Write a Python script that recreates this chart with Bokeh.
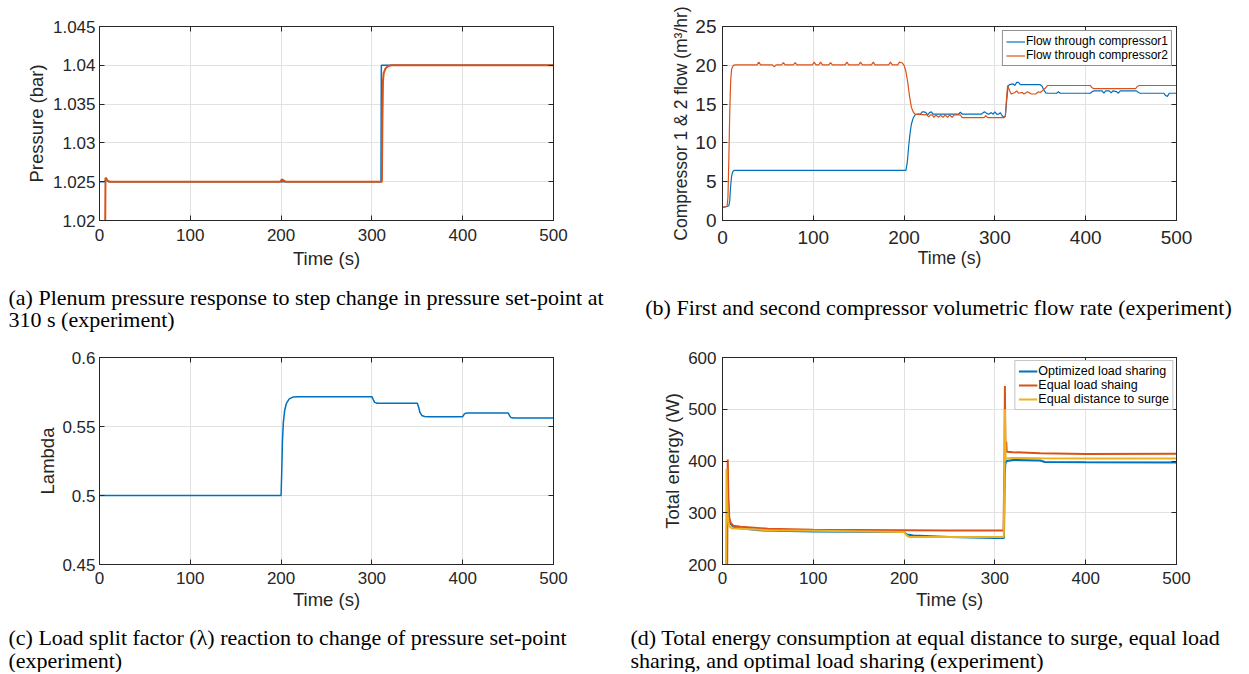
from bokeh.plotting import figure
from bokeh.models import Range1d, FixedTicker, LinearAxis, Label, CustomLabelingPolicy
from bokeh.layouts import column, row
from bokeh.embed import file_html
from bokeh.resources import INLINE

# ---------------- data ----------------
# (a) plenum pressure
a_t_set = [0, 6, 7, 8.5, 10, 310, 310.4, 500]
a_p_set = [1.025, 1.025, 1.0254, 1.0252, 1.025, 1.025, 1.040, 1.040]
a_t_meas = [5.8, 6.6, 7.5, 9, 12, 199, 201, 203, 205, 311.0, 311.6, 312.2, 313, 315, 318, 322, 500]
a_p_meas = [1.010, 1.0255, 1.0254, 1.0251, 1.0250, 1.0250, 1.0253, 1.02515, 1.0250,
            1.025, 1.033, 1.0380, 1.0390, 1.0396, 1.0399, 1.0400, 1.0400]
a_yticks = [1.02, 1.025, 1.03, 1.035, 1.04, 1.045]
a_ylabels = ["1.02", "1.025", "1.03", "1.035", "1.04", "1.045"]

# (b) compressor flows
b_t1 = [0, 5, 7, 8, 9, 10, 11, 12, 13, 15, 202, 203.5, 205, 206.5, 208, 210, 212, 214, 218,
        220, 222, 224, 226, 228, 230, 232, 260, 262, 264, 285, 287, 289, 291, 293, 296, 298,
        300, 302, 304, 306, 308, 310, 311.5, 313, 314.5, 316, 320, 322, 324, 326, 328, 330,
        350, 352, 354, 356, 358, 368, 370, 372, 405, 407, 409, 418, 420, 422, 426, 428, 430,
        434, 436, 438, 456, 458, 460, 486, 488, 490, 492, 500]
b_q1 = [1.7, 1.8, 1.9, 2.6, 4.5, 5.7, 6.2, 6.4, 6.45, 6.45, 6.45, 7.5, 9.5, 11.2, 12.4, 13.2,
        13.6, 13.7, 13.7, 14.0, 14.0, 13.9, 13.6, 13.9, 14.0, 13.7, 13.7, 13.95, 13.7, 13.7,
        13.9, 14.0, 13.8, 13.7, 13.9, 13.7, 14.0, 13.7, 13.7, 13.9, 13.5, 13.3, 13.4, 15.5,
        17.3, 17.5, 17.6, 17.4, 17.8, 17.8, 17.5, 17.5, 17.5, 17.3, 16.8, 16.45, 16.4, 16.4,
        16.6, 16.4, 16.4, 16.6, 16.7, 16.7, 16.4, 16.7, 16.7, 16.45, 16.7, 16.6, 16.4, 16.7,
        16.7, 16.5, 16.4, 16.4, 16.1, 16.0, 16.4, 16.4]
b_t2 = [0, 5, 6, 7, 8, 9, 10, 12, 14, 38, 40, 42, 55, 57, 59, 65, 67, 69, 78, 80, 82, 99, 101,
        103, 106, 108, 110, 117, 119, 121, 135, 137, 139, 150, 152, 154, 164, 166, 168, 183,
        185, 187, 193, 195, 198, 200, 202, 204, 206, 208, 210, 212, 225, 227, 229, 231, 233,
        235, 238, 240, 243, 245, 248, 250, 253, 255, 262, 264, 288, 290, 292, 310, 311.5, 313,
        314, 316, 318, 322, 324, 326, 330, 332, 336, 340, 345, 348, 350, 353, 356, 358, 405,
        407, 409, 455, 457, 459, 500]
b_q2 = [1.7, 1.8, 3.0, 8.0, 14.0, 18.0, 19.5, 20.0, 20.05, 20.05, 20.4, 20.05, 20.05, 19.8,
        20.05, 20.05, 20.35, 20.05, 20.05, 20.35, 20.05, 20.05, 20.4, 20.05, 20.05, 20.4, 20.05,
        20.05, 20.35, 20.05, 20.05, 20.4, 20.05, 20.05, 20.4, 20.05, 20.05, 20.4, 20.05, 20.05,
        20.4, 20.05, 20.05, 20.4, 20.3, 20.0, 19.2, 17.8, 16.0, 14.6, 14.0, 13.7, 13.6, 13.35,
        13.6, 13.6, 13.3, 13.6, 13.3, 13.55, 13.3, 13.6, 13.3, 13.6, 13.3, 13.6, 13.6, 13.25,
        13.25, 13.5, 13.25, 13.25, 13.5, 16.0, 17.4, 16.8, 16.3, 16.5, 16.7, 16.4, 16.5, 16.3,
        16.6, 16.3, 16.3, 16.6, 16.5, 16.8, 17.1, 17.4, 17.4, 17.1, 17.0, 17.0, 17.3, 17.4, 17.4]
b_yticks = [0, 5, 10, 15, 20, 25]
b_ylabels = ["0", "5", "10", "15", "20", "25"]

# (c) load split factor
c_t = [0, 200, 200.8, 201.5, 202.5, 204, 206, 209, 213, 220, 300, 301.5, 303, 306, 350, 351.5,
       353, 355, 358, 362, 400, 401.5, 403, 406, 450, 451.5, 453, 456, 500]
c_lam = [0.5, 0.5, 0.52, 0.54, 0.553, 0.562, 0.567, 0.570, 0.5713, 0.5716, 0.5716, 0.5695,
         0.5675, 0.5668, 0.5668, 0.5640, 0.560, 0.5580, 0.5572, 0.5571, 0.5571, 0.5588, 0.5596,
         0.5598, 0.5598, 0.5580, 0.5566, 0.5562, 0.5562]
c_yticks = [0.45, 0.5, 0.55, 0.6]
c_ylabels = ["0.45", "0.5", "0.55", "0.6"]

# (d) total energy
d_t_opt = [4.5, 5.2, 6, 7, 9, 12, 20, 40, 100, 200, 203, 210, 250, 300, 310, 310.8, 311.5, 313,
           320, 350, 355, 400, 500]
d_e_opt = [150, 360, 330, 290, 278, 273, 270, 266, 264, 263, 258, 256, 253, 251, 251, 370, 395,
           400, 402, 401, 398, 397.5, 397]
d_t_eq = [5, 5.8, 6.5, 7.5, 9, 12, 20, 50, 100, 200, 250, 309.5, 310.5, 311, 311.5, 312, 312.5,
          313, 320, 350, 400, 500]
d_e_eq = [150, 403, 330, 290, 280, 275, 273, 269, 267, 266, 265.5, 265.5, 400, 545, 440, 420,
          437, 418, 417, 415, 413.5, 414]
d_t_ds = [3.8, 4.4, 5, 6, 7, 10, 20, 50, 100, 200, 203, 206, 250, 309.8, 310.6, 311, 311.8, 313,
          320, 350, 400, 500]
d_e_ds = [150, 385, 330, 290, 275, 270, 269, 266, 265, 263, 256, 253, 253, 253, 380, 500, 405,
          405, 406, 405.5, 405, 405]
d_yticks = [200, 300, 400, 500, 600]
d_ylabels = ["200", "300", "400", "500", "600"]

x_ticks = [0, 100, 200, 300, 400, 500]

cap_a = ["(a) Plenum pressure response to step change in pressure set-point at",
         "310 s (experiment)"]
cap_b = ["(b) First and second compressor volumetric flow rate (experiment)"]
cap_c = ["(c) Load split factor (\u03bb) reaction to change of pressure set-point",
         "(experiment)"]
cap_d = ["(d) Total energy consumption at equal distance to surge, equal load",
         "sharing, and optimal load sharing (experiment)"]

# ---------------- style ----------------
SANS = "Liberation Sans"
SERIF = "Liberation Serif"
AX = "#262626"
GRID = "#e2e2e2"
BLUE = "#0072BD"
ORANGE = "#D95319"
YELLOW = "#EDB120"
CAP_FS = "22px"

NO_LABELS = "for (const i of indices) { indices.unset(i) }\nreturn indices"


def make_fig(w, h, bl, bt, br, bb, yr, yticks, ylabels, tick_fs, lab_fs,
             xstand, xlabstand, ystand, ylabstand, ylabel):
    p = figure(width=w, height=h, min_border_left=bl, min_border_top=bt,
               min_border_right=br, min_border_bottom=bb,
               x_range=Range1d(0, 500), y_range=Range1d(*yr),
               output_backend="svg", toolbar_location=None, tools="")
    p.outline_line_color = AX
    p.outline_line_width = 1
    p.background_fill_color = "white"
    p.border_fill_color = "white"
    xt = FixedTicker(ticks=x_ticks)
    yt = FixedTicker(ticks=yticks)
    p.xaxis.ticker = xt
    p.yaxis.ticker = yt
    p.xgrid.ticker = xt
    p.ygrid.ticker = yt
    p.yaxis.major_label_overrides = {t: l for t, l in zip(yticks, ylabels)}
    for ax in (p.xaxis[0], p.yaxis[0]):
        ax.axis_line_color = AX
        ax.major_tick_line_color = AX
        ax.major_tick_in = 5
        ax.major_tick_out = 0
        ax.minor_tick_line_color = None
        ax.major_label_text_font = SANS
        ax.major_label_text_font_size = tick_fs
        ax.major_label_text_color = AX
        ax.axis_label_text_font = SANS
        ax.axis_label_text_font_size = lab_fs
        ax.axis_label_text_font_style = "normal"
        ax.axis_label_text_color = AX
    p.xaxis.major_label_standoff = xstand
    p.xaxis.axis_label_standoff = xlabstand
    p.yaxis.major_label_standoff = ystand
    p.yaxis.axis_label_standoff = ylabstand
    p.xaxis.axis_label = "Time (s)"
    p.yaxis.axis_label = ylabel
    p.xgrid.grid_line_color = GRID
    p.ygrid.grid_line_color = GRID
    for loc, tk in (("right", yt), ("above", xt)):
        ax = LinearAxis(ticker=tk, major_label_policy=CustomLabelingPolicy(code=NO_LABELS),
                        major_label_text_font_size="1px", major_label_standoff=0,
                        major_tick_in=5, major_tick_out=0, minor_tick_line_color=None,
                        axis_line_color=AX, major_tick_line_color=AX)
        p.add_layout(ax, loc)
    return p


def caption_fig(w, h, lines, x, ys, align="left"):
    c = figure(width=w, height=h, min_border=0, x_range=Range1d(0, 1), y_range=Range1d(0, 1),
               output_backend="svg", toolbar_location=None, tools="")
    c.axis.visible = False
    c.grid.visible = False
    c.outline_line_color = None
    c.background_fill_color = "white"
    c.border_fill_color = "white"
    for txt, y in zip(lines, ys):
        c.add_layout(Label(x=x, y=y, x_units="screen", y_units="screen", text=txt,
                           text_font=SERIF, text_font_size=CAP_FS, text_baseline="middle",
                           text_align=align, text_color="#000000"))
    return c


def style_legend(p, fs, border, margin, gh):
    lg = p.legend[0]
    lg.location = "top_right"
    lg.margin = margin
    lg.padding = 3
    lg.spacing = 0
    lg.glyph_height = gh
    lg.label_height = gh
    lg.glyph_width = 19
    lg.label_standoff = 1
    lg.label_text_font = SANS
    lg.label_text_font_size = fs
    lg.label_text_color = "#000000"
    lg.border_line_color = border
    lg.border_line_width = 1
    lg.background_fill_color = "white"
    lg.background_fill_alpha = 1


WA, WB = 615, 632
H1, HC1, H2, HC2 = 286, 50, 280, 56

# (a)
pa = make_fig(WA, H1, 99, 16, WA - 99 - 454, H1 - 16 - 204, (1.02, 1.045), a_yticks, a_ylabels,
              "17px", "18.5px", 8, 4, 4, 3, "Pressure (bar)")
pa.line(a_t_set, a_p_set, line_color=BLUE, line_width=1.5)
pa.line(a_t_meas, a_p_meas, line_color=ORANGE, line_width=2)

# (b)
pb = make_fig(WB, H1, 107, 26, WB - 107 - 454, H1 - 26 - 206, (0, 25), b_yticks, b_ylabels,
              "19px", "17.5px", 10, 1, 6, 1, "Compressor 1 & 2 flow (m\u00b3/hr)")
pb.line(b_t1, b_q1, line_color=BLUE, line_width=1.2, legend_label="Flow through compressor1")
pb.line(b_t2, b_q2, line_color=ORANGE, line_width=1.2, legend_label="Flow through compressor2")
style_legend(pb, "12px", AX, 4, 13)

# (c)
pc = make_fig(WA, H2, 99, 21, WA - 99 - 454, H2 - 21 - 207, (0.45, 0.6), c_yticks, c_ylabels,
              "17px", "18.5px", 7, 2, 4, 1, "Lambda")
pc.line(c_t, c_lam, line_color=BLUE, line_width=1.5)

# (d)
pd = make_fig(WB, H2, 107, 21, WB - 107 - 454, H2 - 21 - 207, (200, 600), d_yticks, d_ylabels,
              "17px", "18.5px", 7, 2, 6, 2, "Total energy (W)")
pd.line(d_t_opt, d_e_opt, line_color=BLUE, line_width=2, legend_label="Optimized load sharing")
pd.line(d_t_eq, d_e_eq, line_color=ORANGE, line_width=2, legend_label="Equal load shaing")
pd.line(d_t_ds, d_e_ds, line_color=YELLOW, line_width=2, legend_label="Equal distance to surge")
style_legend(pd, "12.5px", "#8c8c8c", 3, 14)

# captions
ca = caption_fig(WA, HC1, cap_a, 8, [HC1 - 11, HC1 - 33])
cb = caption_fig(WB, HC1, cap_b, 323, [HC1 - 21], align="center")
cc = caption_fig(WA, HC2, cap_c, 8, [HC2 - 21, HC2 - 44])
cd = caption_fig(WB, HC2, cap_d, 15, [HC2 - 21, HC2 - 44])

layout = column(row(pa, pb), row(ca, cb), row(pc, pd), row(cc, cd))
open("out.html", "w").write(file_html(layout, INLINE))
